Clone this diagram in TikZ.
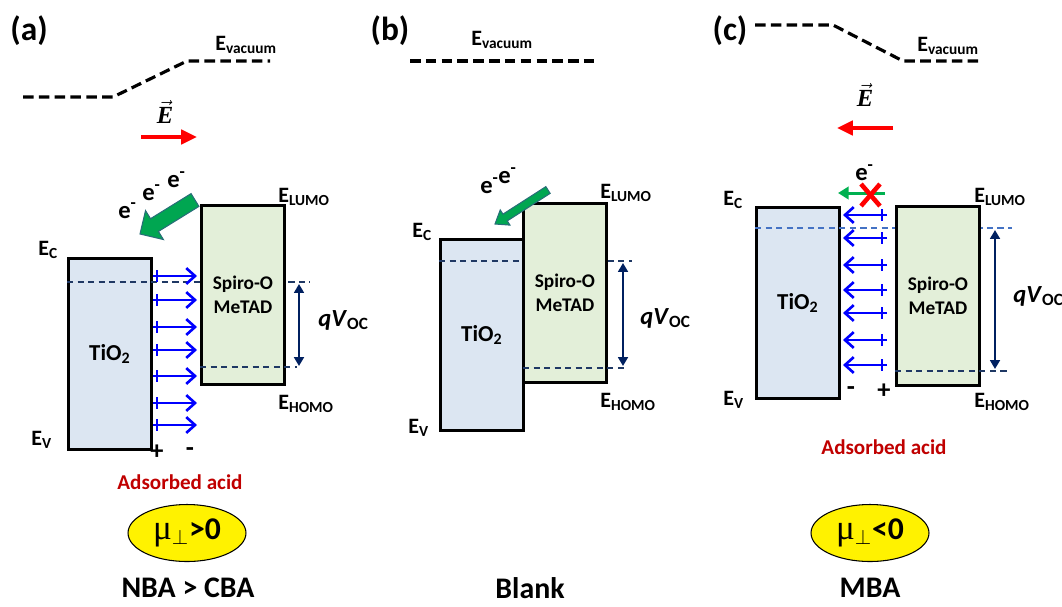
\documentclass[tikz,border=0pt]{standalone}
\usepackage{fontspec}
\setmainfont{Carlito}
\newfontfamily\serifmu{Liberation Serif}
\usetikzlibrary{arrows.meta, calc, shapes.geometric}

\definecolor{tiofill}{RGB}{220,230,242}
\definecolor{spirofill}{RGB}{227,239,217}
\definecolor{navy}{RGB}{31,56,100}
\definecolor{lvllight}{RGB}{68,114,196}
\definecolor{qvblue}{RGB}{0,32,96}
\definecolor{acidred}{RGB}{192,0,0}
\definecolor{egreen}{RGB}{0,176,80}
\definecolor{fatfill}{RGB}{0,166,81}
\definecolor{fatline}{RGB}{40,110,120}

% fat arrow: tail, tip, half shaft, half head, head length
\newcommand{\fatarrow}[5]{%
  \coordinate (#1h) at ($(#2)!#5!(#1)$);
  \path[fatgreen] ($(#1)!#3!90:(#2)$) -- ($(#1h)!#3!90:(#2)$) -- ($(#1h)!#4!90:(#2)$)
    -- (#2) -- ($(#1h)!#4!-90:(#2)$) -- ($(#1h)!#3!-90:(#2)$) -- ($(#1)!#3!-90:(#2)$) -- cycle;}

\begin{document}
\begin{tikzpicture}[
    x=0.02cm, y=-0.02cm,
    lbl/.style={font=\fontsize{12.5pt}{14pt}\selectfont\bfseries, inner sep=0pt, anchor=base west},
    panel/.style={font=\fontsize{19pt}{21pt}\selectfont\bfseries, inner sep=0pt},
    tio/.style={draw, line width=1.6pt, fill=tiofill, minimum width=1.66cm, minimum height=3.82cm,
        anchor=north west, inner sep=0pt, font=\fontsize{13pt}{15pt}\selectfont\bfseries},
    spiro/.style={draw, line width=1.6pt, fill=spirofill, minimum width=1.66cm, minimum height=3.58cm,
        anchor=north west, inner sep=0pt, align=center, font=\fontsize{11pt}{13.5pt}\selectfont\bfseries},
    vac/.style={line width=1.8pt, dash pattern=on 6pt off 3pt},
    lvl/.style={navy, line width=0.75pt, dash pattern=on 3.5pt off 2.5pt},
    qv/.style={qvblue, line width=1.6pt, {Triangle[length=5pt,width=5.5pt]}-{Triangle[length=5pt,width=5.5pt]}},
    efield/.style={red, line width=2.8pt, -{Triangle[length=9pt,width=8pt]}},
    dip/.style={blue, line width=1.5pt, -{Straight Barb[length=5pt,width=9pt]}},
    dtick/.style={blue, line width=0.8pt},
    elec/.style={font=\fontsize{14pt}{16pt}\selectfont\bfseries, inner sep=0pt, anchor=base west},
    sign/.style={font=\fontsize{15pt}{17pt}\selectfont\bfseries, inner sep=0pt},
    qvl/.style={font=\fontsize{14pt}{16pt}\selectfont\bfseries, inner sep=0pt, anchor=west},
    evec/.style={font=\fontsize{14pt}{16pt}\selectfont, inner sep=0pt},
    acid/.style={acidred, font=\fontsize{12pt}{14pt}\selectfont\bfseries, inner sep=0pt},
    dipole/.style={ellipse, draw, line width=0.6pt, fill=yellow, minimum width=2.36cm, minimum height=1.14cm,
        inner sep=0pt, font=\fontsize{18pt}{20pt}\selectfont\bfseries},
    caption/.style={font=\fontsize{17pt}{19pt}\selectfont\bfseries, inner sep=0pt},
    fatgreen/.style={fill=fatfill, draw=fatline, line width=0.6pt},
    nox/.style={red, line width=2.6pt}
]
\useasboundingbox (0,0) rectangle (1062,606);

% ---------------- Panel (a)
\node[panel] (taga) at (29,31) {(a)};
\draw[vac] (23,97) -- (113,97) -- (187,61) -- (270,61);
\node[lbl] (vaca) at (215,50) {E\textsubscript{vacuum}};
\node[evec] (eveca) at (165,112) {$\vec{\mbox{\serifmu\bfseries\itshape E}}$};
\coordinate (efa1) at (141,137);
\coordinate (efa2) at (197,137);
\draw[efield] (efa1) -- (efa2);

\node[tio] (tioa) at (67,257) {TiO\textsubscript{2}};
\draw[lvl] (67,282) -- (310,282);
\node[spiro] (spiroa) at (200,204) {Spiro-O\\MeTAD};
\draw[lvl] (200,367) -- (297,367);
\coordinate (qva1) at (299,284);
\coordinate (qva2) at (299,366);
\draw[qv] (qva1) -- (qva2);
\node[qvl] (qvla) at (318,320) {\textit{qV}\textsubscript{OC}};

\node[lbl] (eca) at (38,255) {E\textsubscript{C}};
\node[lbl] (eva) at (31,445) {E\textsubscript{V}};
\node[lbl] (lumoa) at (278,202) {E\textsubscript{LUMO}};
\node[lbl] (homoa) at (278,409) {E\textsubscript{HOMO}};

\node[elec] (ea1) at (118,218) {e\textsuperscript{-}};
\node[elec] (ea2) at (142,200) {e\textsuperscript{-}};
\node[elec] (ea3) at (167,187) {e\textsuperscript{-}};
\coordinate (gta) at (195,200);
\coordinate (gha) at (140,234);
\fatarrow{gta}{gha}{0.15cm}{0.34cm}{0.34cm}

\foreach \yy in {276,300,327,350,376,403,425} {
    \draw[dip] (153,\yy) -- (197,\yy);
    \draw[dtick] (157,\yy-6) -- (157,\yy+6);
}
\node[sign] (plusa) at (157,452) {+};
\node[sign] (minusa) at (190,452) {-};
\node[acid] (acida) at (180,482) {Adsorbed acid};
\node[dipole] (mua) at (187,533) {{\serifmu\mdseries\fontsize{20pt}{22pt}\selectfont μ}$_{\perp}$>0};
\node[caption] (capa) at (188,588) {NBA > CBA};

% ---------------- Panel (b)
\node[panel] (tagb) at (390,31) {(b)};
\draw[vac] (410,61) -- (598,61);
\node[lbl] (vacb) at (471,45) {E\textsubscript{vacuum}};

\node[tio] (tiob) at (439,238) {TiO\textsubscript{2}};
\draw[lvl] (439,261) -- (632,261);
\node[spiro] (spirob) at (522,202) {Spiro-O\\MeTAD};
\draw[lvl] (523,368) -- (625,368);
\coordinate (qvb1) at (623,263);
\coordinate (qvb2) at (623,366);
\draw[qv] (qvb1) -- (qvb2);
\node[qvl] (qvlb) at (640,318) {\textit{qV}\textsubscript{OC}};

\node[lbl] (ecb) at (412,237) {E\textsubscript{C}};
\node[lbl] (evb) at (408,433) {E\textsubscript{V}};
\node[lbl] (lumob) at (600,198) {E\textsubscript{LUMO}};
\node[lbl] (homob) at (600,407) {E\textsubscript{HOMO}};

\node[elec] (eb1) at (480,193) {e\textsuperscript{-}};
\node[elec] (eb2) at (498,183) {e\textsuperscript{-}};
\coordinate (gtb) at (548,190);
\coordinate (ghb) at (495,224);
\fatarrow{gtb}{ghb}{0.08cm}{0.18cm}{0.24cm}
\node[caption] (capb) at (530,588) {Blank};

% ---------------- Panel (c)
\node[panel] (tagc) at (730,31) {(c)};
\draw[vac] (755,25) -- (833,25) -- (903,61) -- (983,61);
\node[lbl] (vacc) at (917,51) {E\textsubscript{vacuum}};
\node[evec] (evecc) at (865,95) {$\vec{\mbox{\serifmu\bfseries\itshape E}}$};
\coordinate (efc1) at (893,128);
\coordinate (efc2) at (837,128);
\draw[efield] (efc1) -- (efc2);

\node[tio] (tioc) at (755,206) {TiO\textsubscript{2}};
\draw[lvl, lvllight] (755,228) -- (1012,228);
\node[spiro] (spiroc) at (895,205) {Spiro-O\\MeTAD};
\draw[lvl] (895,371) -- (1008,371);
\coordinate (qvc1) at (995,230);
\coordinate (qvc2) at (995,369);
\draw[qv] (qvc1) -- (qvc2);
\node[qvl] (qvlc) at (1013,296) {\textit{qV}\textsubscript{OC}};

\node[lbl] (ecc) at (723,205) {E\textsubscript{C}};
\node[lbl] (evc) at (723,405) {E\textsubscript{V}};
\node[lbl] (lumoc) at (974,202) {E\textsubscript{LUMO}};
\node[lbl] (homoc) at (974,407) {E\textsubscript{HOMO}};

\node[elec] (ec1) at (855,180) {e\textsuperscript{-}};
\coordinate (gtc) at (885,193);
\coordinate (ghc) at (838,193);
\draw[egreen, line width=1.7pt, -{Triangle[length=6pt,width=7pt]}] (gtc) -- (ghc);
\draw[nox] (861,184) -- (880,206);
\draw[nox] (880,184) -- (861,206);

\foreach \yy in {215,238,265,290,313,340,365} {
    \draw[dip] (887,\yy) -- (843,\yy);
    \draw[dtick] (882,\yy-6) -- (882,\yy+6);
}
\node[sign] (minusc) at (851,391) {-};
\node[sign] (plusc) at (884,391) {+};
\node[acid] (acidc) at (884,447) {Adsorbed acid};
\node[dipole] (muc) at (870,533) {{\serifmu\mdseries\fontsize{20pt}{22pt}\selectfont μ}$_{\perp}$<0};
\node[caption] (capc) at (870,588) {MBA};

\end{tikzpicture}
\end{document}
